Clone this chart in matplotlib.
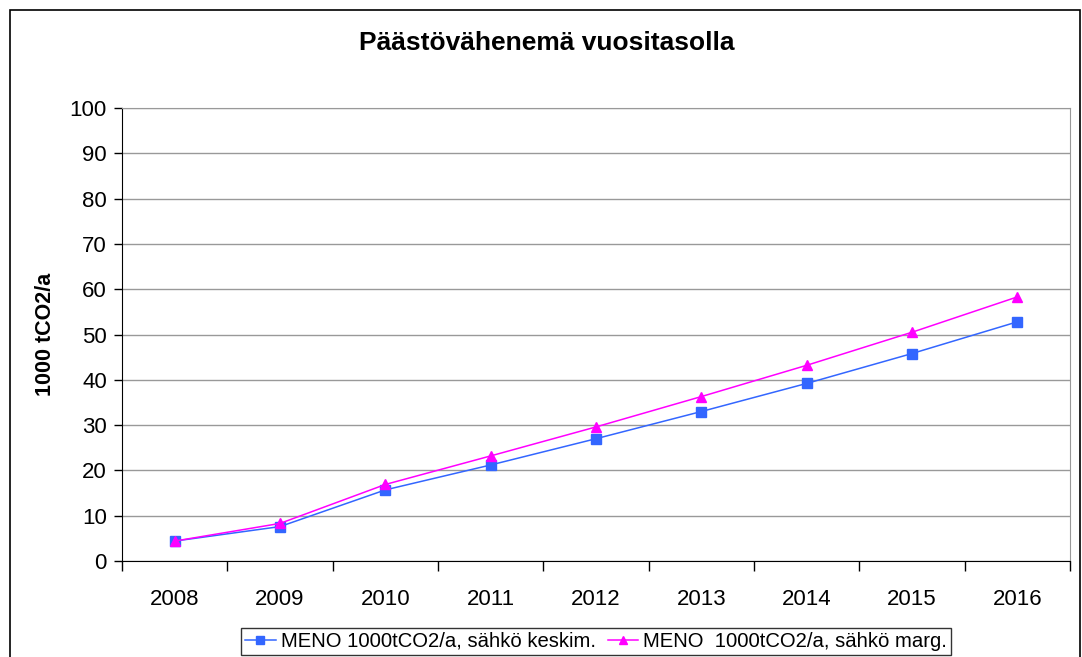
import numpy as np
import matplotlib.pyplot as plt
from matplotlib.patches import Rectangle

years = ['2008', '2009', '2010', '2011', '2012', '2013', '2014', '2015', '2016']
keskim = [4.4, 7.6, 15.7, 21.2, 27.0, 33.0, 39.2, 45.8, 52.8]
marg = [4.4, 8.3, 16.9, 23.2, 29.6, 36.3, 43.2, 50.5, 58.3]

label_keskim = 'MENO 1000tCO2/a, sähkö keskim.'
label_marg = 'MENO  1000tCO2/a, sähkö marg.'

plt.rcParams['font.family'] = ['Liberation Sans', 'DejaVu Sans']

fig = plt.figure(figsize=(10.82, 6.57), dpi=100)
ax = fig.add_axes([0.1128, 0.1461, 0.8761, 0.6895])

x = np.arange(len(years))
ax.plot(x, keskim, color='#3366FF', marker='s', markersize=6.5, linewidth=1.1,
        label=label_keskim)
ax.plot(x, marg, color='#FF00FF', marker='^', markersize=7.5, linewidth=1.1,
        label=label_marg)

ax.set_xlim(-0.5, len(years) - 0.5)
ax.set_ylim(0, 100)
ax.set_yticks(np.arange(0, 101, 10))
ax.set_xticks(x)
ax.set_xticklabels(years)
ax.set_xticks(np.arange(-0.5, len(years), 1), minor=True)
ax.tick_params(axis='x', which='major', length=0, labelsize=16, pad=20)
ax.tick_params(axis='x', which='minor', length=7, width=1, direction='out')
ax.tick_params(axis='y', length=6, width=1, labelsize=16, pad=5)

ax.yaxis.grid(True, color='#999999', linewidth=1)
ax.set_axisbelow(True)
for side in ['top', 'right']:
    ax.spines[side].set_color('#999999')
for side in ['left', 'bottom']:
    ax.spines[side].set_color('black')

ax.set_ylabel('1000 tCO2/a', fontsize=15.5, fontweight='bold', labelpad=10)

fig.text(0.505, 0.934, 'Päästövähenemä vuositasolla', ha='center', va='center',
         fontsize=19, fontweight='bold')

leg = fig.legend(loc='center', bbox_to_anchor=(0.551, 0.0236), ncol=2,
                 fontsize=14.6, frameon=True, fancybox=False, borderpad=0.2,
                 handlelength=1.5, handletextpad=0.25, columnspacing=0.6,
                 borderaxespad=0, markerscale=0.8)
leg.get_frame().set_edgecolor('black')
leg.get_frame().set_linewidth(1)

fig.patches.append(Rectangle((10 / 1082, -0.01), 1070 / 1082, 0.002 + 652 / 657,
                             transform=fig.transFigure, fill=False,
                             edgecolor='black', linewidth=1.2))

fig.savefig('out.png', dpi=100)
